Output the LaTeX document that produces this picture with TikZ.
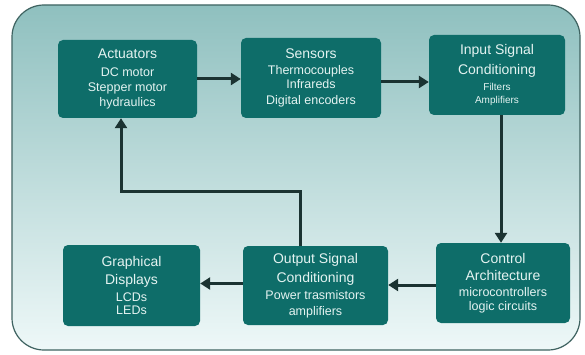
\documentclass[tikz,border=0pt]{standalone}
\usepackage{fontspec}
\setmainfont{Liberation Sans}
\usetikzlibrary{arrows.meta}
\definecolor{boxfill}{HTML}{0E6D69}
\definecolor{boxtext}{HTML}{E4F3F1}
\definecolor{panelTop}{HTML}{8FC0BF}
\definecolor{panelBot}{HTML}{EEF8F8}
\definecolor{panelEdge}{HTML}{3F6361}
\definecolor{arrowc}{HTML}{1B3332}
\newcommand\boxtitle{\fontsize{14}{17}\selectfont}
\newcommand\boxitem{\fontsize{12.5}{14.5}\selectfont}
\newcommand\boxsmall{\fontsize{10}{13}\selectfont}
\tikzset{
  blk/.style={fill=boxfill, rounded corners=5pt, text=boxtext, align=center, inner sep=0pt},
  arr/.style={draw=arrowc, line width=3pt, -{Triangle[length=10pt,width=12pt]}}
}
\begin{document}
\begin{tikzpicture}[x=1pt,y=-1pt]
\useasboundingbox (0,0) rectangle (585,355);
\fill[white] (0,0) rectangle (585,355);
\shade[top color=panelTop, bottom color=panelBot, draw=panelEdge, line width=1.2pt, rounded corners=32pt] (12,5) rectangle (580,350);

\node[blk, minimum width=139pt, minimum height=78pt] (act) at (127.5,79)
  {\boxtitle Actuators\\[6pt]\boxitem DC motor\\[3pt]\boxitem Stepper motor\\[3pt]\boxitem hydraulics};
\node[blk, minimum width=140pt, minimum height=80pt] (sens) at (311,78)
  {\boxtitle Sensors\\[4pt]\boxitem Thermocouples\\[2pt]\boxitem Infrareds\\[4pt]\boxitem Digital encoders};
\node[blk, minimum width=136pt, minimum height=80pt] (inp) at (497,75)
  {\boxtitle Input Signal\\[6pt]\boxtitle Conditioning\\[4pt]\boxsmall Filters\\[1pt]\boxsmall Amplifiers};
\node[blk, minimum width=134pt, minimum height=80pt] (ctrl) at (503,283)
  {\boxtitle Control\\[5pt]\boxtitle Architecture\\[4pt]\boxitem microcontrollers\\[2pt]\boxitem logic circuits};
\node[blk, minimum width=145pt, minimum height=79pt] (out) at (315.5,285.5)
  {\boxtitle Output Signal\\[5pt]\boxtitle Conditioning\\[5pt]\boxitem Power trasmistors\\[4pt]\boxitem amplifiers};
\node[blk, minimum width=137pt, minimum height=81pt] (gr) at (131.5,285.5)
  {\boxtitle Graphical\\[4pt]\boxtitle Displays\\[5pt]\boxitem LCDs\\[1pt]\boxitem LEDs};

\coordinate (b1) at (300,192);
\coordinate (b2) at (121,192);
\coordinate (vx) at (501,0);

\draw[arr] (act.east) -- (act.east -| sens.west);
\draw[arr] ([yshift=-4pt]sens.east) -- ([yshift=-4pt]sens.east -| inp.west);
\draw[arr] (inp.south -| vx) -- (ctrl.north -| vx);
\draw[arr] ([yshift=-2pt]ctrl.west) -- ([yshift=-2pt]ctrl.west -| out.east);
\draw[arr] ([yshift=2pt]out.west) -- ([yshift=2pt]out.west -| gr.east);
\draw[arr] (out.north -| b1) -- (b1) -- (b2) -- (act.south -| b2);
\end{tikzpicture}
\end{document}
